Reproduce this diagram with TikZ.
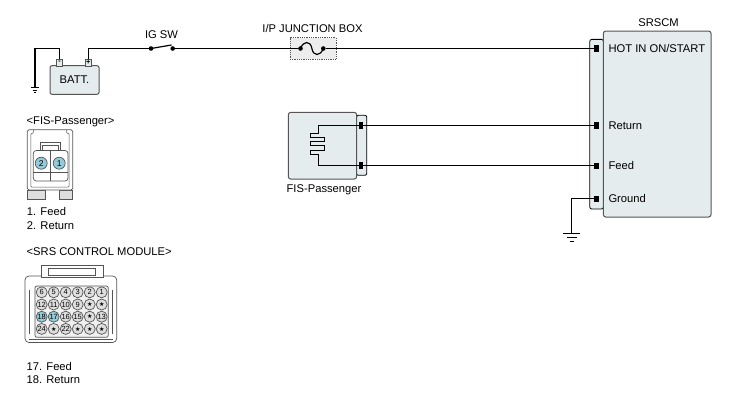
\documentclass[tikz,border=0pt]{standalone}
\usepackage{fontspec}
\setmainfont{Liberation Sans}
\newfontfamily\symfont{DejaVu Sans}
\usetikzlibrary{calc}
\definecolor{boxfill}{HTML}{E4ECEE}
\definecolor{pinblue}{HTML}{93CCD8}
\definecolor{pingray}{HTML}{DEDEDE}
\definecolor{edge}{HTML}{555555}
\newcommand\pstar{{\symfont\fontsize{6}{6}\selectfont ★}}
\begin{document}
\begin{tikzpicture}[x=1pt,y=-1pt,
  every node/.style={inner sep=0pt, outer sep=0pt},
  lbl/.style={font=\fontsize{11.2}{13}\selectfont},
  wire/.style={line width=1.2pt, black},
  module/.style={draw=edge, line width=1pt, fill=boxfill, rounded corners=2.5pt},
  stripbox/.style={draw=black, line width=0.8pt, fill=boxfill, rounded corners=2pt},
  pinsq/.style={fill=black, minimum width=4.6pt, minimum height=6.4pt},
  dot/.style={circle, fill=black, minimum size=4.6pt},
  term/.style={draw=edge, line width=0.7pt, fill=boxfill, minimum width=6.6pt, minimum height=6.6pt, font=\fontsize{7.5}{7}\selectfont\bfseries},
  conn/.style={draw=edge, line width=0.7pt},
  cpin/.style={circle, draw=edge, line width=0.7pt, minimum size=11pt, font=\fontsize{7.5}{8}\selectfont},
  gndline/.style={line width=0.8pt, black}
]
\useasboundingbox (0,0) rectangle (745,400);

% ---------- battery ----------
\node[module, rounded corners=2pt, minimum width=49pt, minimum height=28.6pt, lbl] (batt) at (74.5,80) {BATT.};
\node[term] (neg) at (59.5,62.6) {-};
\node[term] (pos) at (88.3,62.6) {+};
\coordinate (ltop) at (35,48.5);
\coordinate (gl) at (35,87.6);
\draw[wire] (neg.north) |- (ltop) -- (gl);
\draw[gndline] (gl) ++(-3.8,0) -- ++(7.6,0);
\draw[gndline] (gl) ++(-2.4,2.3) -- ++(4.8,0);
\draw[gndline] (gl) ++(-1,4.6) -- ++(2,0);

% ---------- ignition switch ----------
\node[dot] (sw1) at (151,48.5) {};
\node[dot] (sw2) at (172.7,48.5) {};
\coordinate (swtip) at (171.5,45);
\draw[wire] (pos.north) |- (sw1);
\draw[wire] (sw1.center) -- (swtip);
\node[lbl, anchor=base] (igsw) at (161.5,38.3) {IG SW};

% ---------- junction box / fuse ----------
\node[draw=edge, densely dotted, line width=0.8pt, fill=pingray!55, minimum width=46pt, minimum height=21.6pt] (jb) at (313,48.5) {};
\node[lbl, anchor=base] (jblbl) at (312.5,32.6) {I/P JUNCTION BOX};
\node[dot] (f1) at (300.5,48.5) {};
\node[dot] (f2) at (323.3,48.5) {};
\draw[wire] (sw2) -- (f1);
\draw[wire] (f1.center) .. controls (303.5,40.5) and (310.5,40.5) .. (311.9,48.5)
            .. controls (313.3,56.5) and (320.3,56.5) .. (f2.center);

% ---------- SRSCM ----------
\node[stripbox, minimum width=13.6pt, minimum height=169.7pt] (srsstrip) at (596.6,124.2) {};
\node[module, minimum width=107.7pt, minimum height=186pt] (srscm) at (657.2,124) {};
\node[lbl, anchor=base] (srstitle) at (658.5,26.6) {SRSCM};
\node[pinsq] (hot) at (596.7,48.5) {};
\node[pinsq] (sret) at (596.7,125.5) {};
\node[pinsq] (sfeed) at (596.7,165.7) {};
\node[pinsq] (sgnd) at (596.7,198.7) {};
\node[lbl, anchor=base west] (thot) at (608.5,52.6) {HOT IN ON/START};
\node[lbl, anchor=base west] (tret) at (608.5,129.6) {Return};
\node[lbl, anchor=base west] (tfeed) at (608.5,169.8) {Feed};
\node[lbl, anchor=base west] (tgnd) at (608.5,202.8) {Ground};
\draw[wire] (f2) -- (hot);

\coordinate (gr) at (571.7,233);
\draw[wire] (sgnd) -| (gr);
\draw[gndline] (gr) ++(-8.5,0) -- ++(17,0);
\draw[gndline] (gr) ++(-5.2,4) -- ++(10.4,0);
\draw[gndline] (gr) ++(-2,8.3) -- ++(4,0);

% ---------- FIS-Passenger ----------
\node[stripbox, minimum width=10.4pt, minimum height=60pt] (fstrip) at (361.6,145.3) {};
\node[module, minimum width=68.4pt, minimum height=66.7pt] (fis) at (322.5,145.7) {};
\node[pinsq, minimum width=4.2pt, minimum height=6.8pt] (fp1) at (361.3,125.5) {};
\node[pinsq, minimum width=4.2pt, minimum height=6.8pt] (fp2) at (361.3,165.7) {};
\draw[line width=0.9pt] (fp1.center) -| (318.3,133.3) -| (310.7,137.4) -| (324.5,141.7)
   -| (310.7,145.8) -| (324.5,150) -| (310.7,154.1) -| (318.3,165.7) -- (fp2.center);
\draw[wire] (fp1) -- (sret);
\draw[wire] (fp2) -- (sfeed);
\node[lbl, anchor=base] (fislbl) at (324,192.5) {FIS-Passenger};

% ---------- left legend: FIS connector ----------
\node[lbl, anchor=base west] (fish) at (26.7,124.6) {<FIS-Passenger>};
\draw[conn, fill=pingray] (27.3,190) rectangle (45.7,199);
\draw[conn, fill=pingray] (59.3,190) rectangle (72.7,199);
\draw[conn, fill=white, rounded corners=1.5pt] (27.3,190) -- (27.3,129.8) -- (72.7,129.8) -- (72.7,190) -- cycle;
\draw[conn, line width=0.5pt, rounded corners=1pt] (33.3,129.8) -- (33.3,133.4) -- (30.8,133.4) -- (30.8,187) -- (69.2,187) -- (69.2,133.4) -- (66.7,133.4) -- (66.7,129.8);
\draw[conn, fill=white] (40,142.6) rectangle (60.6,150.5);
\draw[conn, line width=0.5pt] (42.6,145.2) rectangle (58,150.5);
\draw[conn, fill=white, rounded corners=3pt] (33.3,150.5) rectangle (68,181);
\draw[conn] (33.3,172.5) -- (68,172.5);
\draw[conn] (50.65,150.5) -- (50.65,181);
\node[cpin, fill=pinblue, minimum size=12pt, font=\fontsize{8.5}{8}\selectfont] (fpin2) at (41.2,163.2) {2};
\node[cpin, fill=pinblue, minimum size=12pt, font=\fontsize{8.5}{8}\selectfont] (fpin1) at (59.2,163.2) {1};
\node[lbl, anchor=base west] (leg1) at (27,215) {1. Feed};
\node[lbl, anchor=base west] (leg2) at (27,229) {2. Return};

% ---------- left legend: SRS control module ----------
\node[lbl, anchor=base west] (srsh) at (26.7,255) {<SRS CONTROL MODULE>};
\draw[conn, fill=white, rounded corners=4pt] (25,276) rectangle (116.7,342.5);
\draw[conn, fill=white] (41.7,265) rectangle (103.3,277);
\draw[conn, line width=0.5pt] (48.3,268.3) rectangle (95,275);
\draw[conn, line width=0.5pt] (29,290) -- (29,334);
\draw[conn, line width=0.5pt] (112.7,290) -- (112.7,334);
\draw[conn, line width=0.5pt] (29,339) -- (112.7,339);
\draw[conn, fill=pingray!45, rounded corners=2pt] (35,286) rectangle (108.3,337.3);
\foreach \c/\r/\t/\f in {0/0/6/pingray,1/0/5/pingray,2/0/4/pingray,3/0/3/pingray,4/0/2/pingray,5/0/1/pingray,
  0/1/12/pingray,1/1/11/pingray,2/1/10/pingray,3/1/9/pingray,4/1/\pstar/pingray,5/1/\pstar/pingray,
  0/2/18/pinblue,1/2/17/pinblue,2/2/16/pingray,3/2/15/pingray,4/2/\pstar/pingray,5/2/13/pingray,
  0/3/24/pingray,1/3/\pstar/pingray,2/3/22/pingray,3/3/\pstar/pingray,4/3/\pstar/pingray,5/3/\pstar/pingray}
  {\node[cpin, fill=\f] (q\c\r) at ({41.7+12*\c},{292.3+12.2*\r}) {\t};}
\node[lbl, anchor=base west] (leg17) at (26.7,370.2) {17. Feed};
\node[lbl, anchor=base west] (leg18) at (26.7,383.6) {18. Return};
\end{tikzpicture}
\end{document}
